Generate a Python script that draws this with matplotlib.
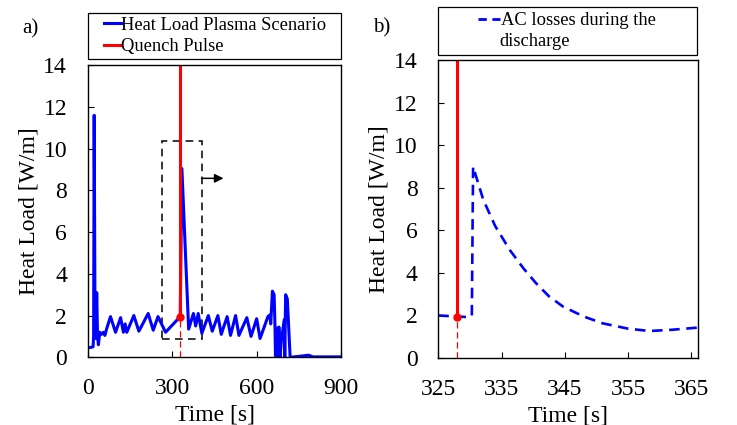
import matplotlib
matplotlib.use("Agg")
import matplotlib.pyplot as plt
from matplotlib.lines import Line2D
from matplotlib.patches import Rectangle

# a) heat load over the whole plasma scenario
time_a = [0, 18, 20, 22, 25, 28, 31, 34, 37, 42, 48, 55, 60, 66, 80, 98, 116, 126,
          132, 138, 163, 181, 214, 232, 249, 276, 328, 334, 358, 375, 383, 392, 405,
          428, 442, 462, 474, 495, 507, 525, 537, 565, 580, 600, 612, 640, 647, 650,
          656, 662, 665, 667, 673, 676, 679, 683, 688, 698, 700, 703, 709, 719, 740,
          785, 800, 900]
load_a = [0.45, 0.5, 1.0, 11.6, 1.5, 0.9, 3.1, 1.0, 0.6, 1.2, 1.1, 1.2, 1.05, 1.35,
          1.95, 1.2, 1.9, 1.2, 1.6, 1.2, 2.0, 1.25, 2.1, 1.3, 1.95, 1.2, 1.95, 9.05,
          1.35, 2.1, 1.5, 2.1, 1.15, 2.0, 1.25, 2.0, 1.1, 1.95, 1.05, 2.0, 1.05, 1.9,
          1.0, 1.85, 0.9, 1.95, 2.03, 1.6, 3.17, 3.0, 1.56, 0.0, 1.4, 0.0, 1.45, 0.0,
          0.83, 1.8, 0.0, 3.0, 2.8, 0.0, 0.03, 0.1, 0.02, 0.02]

# b) AC losses during the discharge (zoom)
time_b = [325, 330.0, 330.3, 330.5, 332.1, 334, 336.3, 338.5, 340.5, 342.5, 344.7,
          348, 351, 355, 358.4, 362, 366]
load_b = [2.0, 1.92, 2.0, 9.0, 7.45, 6.2, 5.08, 4.2, 3.5, 2.9, 2.42, 1.95, 1.63,
          1.38, 1.27, 1.33, 1.43]

# quench pulse
t_quench = 328
v_quench = 1.95

# zoom box on panel a)
box_t = (262, 404)
box_v = (0.86, 10.37)
arrow_end = 482
arrow_v = 8.58

plt.rcParams['font.family'] = ['Liberation Serif', 'DejaVu Serif']
plt.rcParams['font.size'] = 17

fig = plt.figure(figsize=(7.37, 4.25), dpi=100)
ax1 = fig.add_axes([0.1194, 0.1593, 0.3433, 0.6871])
ax2 = fig.add_axes([0.5947, 0.1576, 0.3520, 0.7005])

blue = '#0000ff'
red = '#ff0000'

# panel a
ax1.plot(time_a, load_a, color=blue, lw=2.2)
ax1.plot([t_quench, t_quench], [v_quench, 15], color=red, lw=2.2)
ax1.plot([t_quench, t_quench], [0, v_quench], color=red, lw=0.9, dashes=(5, 3))
ax1.plot([t_quench], [v_quench], 'o', color=red, ms=5)
ax1.add_patch(Rectangle((box_t[0], box_v[0]), box_t[1] - box_t[0], box_v[1] - box_v[0],
                        fill=False, ec='k', lw=1.1, ls=(0, (5, 3.5))))
ax1.annotate('', xy=(arrow_end, arrow_v), xytext=(box_t[1], arrow_v),
             arrowprops=dict(arrowstyle='-|>', color='k', lw=1.1, mutation_scale=13,
                             shrinkA=0, shrinkB=0))
ax1.set_xlim(0, 900)
ax1.set_ylim(0, 14)
ax1.set_xticks([0, 300, 600, 900])
ax1.set_xlabel('Time [s]', labelpad=4)
ax1.set_ylabel('Heat Load [W/m]', labelpad=3)

# panel b
ax2.plot(time_b, load_b, color=blue, lw=1.9, dashes=(4, 2.5))
ax2.plot([t_quench, t_quench], [v_quench, 15], color=red, lw=2.2)
ax2.plot([t_quench, t_quench], [0, v_quench], color=red, lw=0.9, dashes=(5, 3))
ax2.plot([t_quench], [v_quench], 'o', color=red, ms=5)
ax2.set_xlim(325, 366)
ax2.set_ylim(0, 14)
ax2.set_xticks([325, 335, 345, 355, 365])
ax2.set_xlabel('Time [s]', labelpad=4)
ax2.set_ylabel('Heat Load [W/m]', labelpad=3)

for ax in (ax1, ax2):
    ax.set_yticks(range(0, 15, 2))
    ax.tick_params(direction='in', length=4, width=0.8, pad=15, labelsize=17,
                   top=False, right=False)
    for s in ax.spines.values():
        s.set_linewidth(1.0)

# legends with square frames spanning the axes width
h_a = [Line2D([], [], color=blue, lw=2.2), Line2D([], [], color=red, lw=2.2)]
ax1.legend(h_a, ['Heat Load Plasma Scenario', 'Quench Pulse'], loc='center left',
           bbox_to_anchor=(0.063, 1.10), frameon=False, borderpad=0, borderaxespad=0,
           handlelength=0.9, handletextpad=0.05, labelspacing=0.25, fontsize=13.3)
ax1.add_patch(Rectangle((0, 1.0205), 1.0, 0.1575, transform=ax1.transAxes,
                        fill=False, ec='k', lw=0.9, clip_on=False))

h_b = [Line2D([], [], color=blue, lw=2.0, dashes=(3, 2))]
ax2.legend(h_b, ['AC losses during the'], loc='center left',
           bbox_to_anchor=(0.153, 1.133), frameon=False, borderpad=0, borderaxespad=0,
           handlelength=1.2, handletextpad=0.05, fontsize=13.3)
ax2.text(0.236, 1.062, 'discharge', transform=ax2.transAxes, fontsize=13.3,
         ha='left', va='center')
ax2.add_patch(Rectangle((0, 1.018), 0.996, 0.16, transform=ax2.transAxes,
                        fill=False, ec='k', lw=0.9, clip_on=False))

fig.text(0.0407, 0.932, 'a)', ha='center', va='center', fontsize=15)
fig.text(0.5176, 0.935, 'b)', ha='center', va='center', fontsize=15)

fig.savefig('out.png', dpi=100)
